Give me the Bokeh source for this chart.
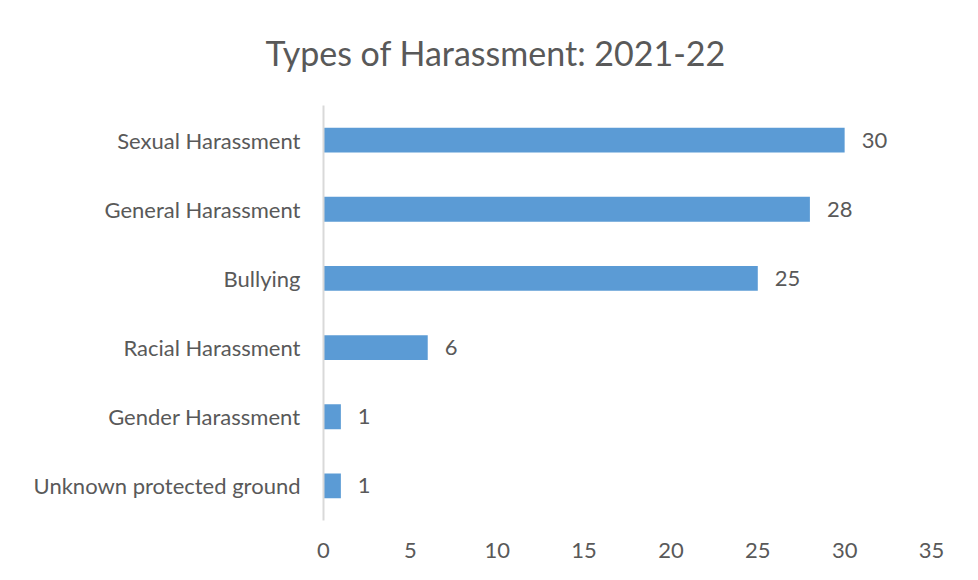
from bokeh.plotting import figure
from bokeh.models import ColumnDataSource, FactorRange, Range1d, FixedTicker, LabelSet
from bokeh.core.properties import value
from bokeh.embed import file_html
from bokeh.resources import INLINE

categories = ["Sexual Harassment", "General Harassment", "Bullying",
              "Racial Harassment", "Gender Harassment", "Unknown protected ground"]
counts = [30, 28, 25, 6, 1, 1]
x_ticks = [0, 5, 10, 15, 20, 25, 30, 35]

FONT = "Lato"
GREY = "#595959"

source = ColumnDataSource(dict(cat=categories, val=counts, lab=[str(v) for v in counts]))

p = figure(width=962, height=564, output_backend="svg", toolbar_location=None,
           y_range=FactorRange(factors=list(reversed(categories)), range_padding=0),
           x_range=Range1d(0, 35),
           min_border_left=323, min_border_right=31, min_border_top=104, min_border_bottom=44)

p.hbar(y="cat", right="val", left=0, height=0.36, source=source,
       fill_color="#5B9BD5", line_color=None)

p.add_layout(LabelSet(x="val", y="cat", text="lab", source=source, x_offset=17,
                      text_baseline="middle", text_font=value(FONT), text_font_size=value("22px"),
                      text_color=GREY))

p.title.text = "Types of Harassment: 2021-22"
p.title.align = "left"
p.title.offset = -58
p.title.text_font = FONT
p.title.text_font_size = "34px"
p.title.text_font_style = "normal"
p.title.text_color = GREY
p.title.vertical_align = "top"
p.title.standoff = 62

p.outline_line_color = None
p.grid.visible = False

p.xaxis.ticker = FixedTicker(ticks=x_ticks)
p.xaxis.axis_line_color = None
p.xaxis.major_tick_line_color = None
p.xaxis.minor_tick_line_color = None
p.xaxis.major_tick_out = 0
p.xaxis.major_label_standoff = 22
p.xaxis.major_label_text_font = FONT
p.xaxis.major_label_text_font_size = "22px"
p.xaxis.major_label_text_color = GREY

p.yaxis.axis_line_color = "#D9D9D9"
p.yaxis.axis_line_width = 2
p.yaxis.major_tick_line_color = None
p.yaxis.minor_tick_line_color = None
p.yaxis.major_tick_out = 0
p.yaxis.major_label_standoff = 23
p.yaxis.major_label_text_font = FONT
p.yaxis.major_label_text_font_size = "22px"
p.yaxis.major_label_text_color = GREY

open("out.html", "w").write(file_html(p, INLINE))
